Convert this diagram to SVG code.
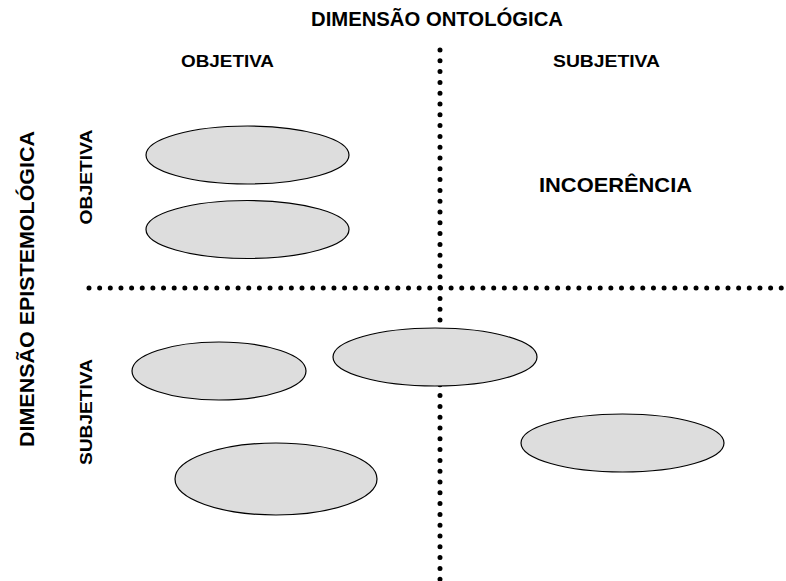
<svg xmlns="http://www.w3.org/2000/svg" width="786" height="581" viewBox="0 0 786 581">
<style>
.t{font-family:"Liberation Sans",Arial,sans-serif;font-weight:bold;fill:#000}
.dots{stroke:#000;stroke-width:5;stroke-linecap:round;fill:none}
.node ellipse{fill:#dddddd;stroke:#000;stroke-width:1.2}
</style>
<rect width="786" height="581" fill="#fff"/>
<g id="labels">
<text class="t" x="437" y="26" font-size="20" text-anchor="middle" textLength="252" lengthAdjust="spacingAndGlyphs">DIMENSÃO ONTOLÓGICA</text>
<text class="t" x="181" y="67" font-size="17" textLength="93" lengthAdjust="spacingAndGlyphs">OBJETIVA</text>
<text class="t" x="553" y="67" font-size="17" textLength="107" lengthAdjust="spacingAndGlyphs">SUBJETIVA</text>
<text class="t" x="539" y="192" font-size="21" textLength="153" lengthAdjust="spacingAndGlyphs">INCOERÊNCIA</text>
<text class="t" transform="translate(34,289) rotate(-90)" font-size="20" text-anchor="middle" textLength="316" lengthAdjust="spacingAndGlyphs">DIMENSÃO EPISTEMOLÓGICA</text>
<text class="t" transform="translate(92,177) rotate(-90)" font-size="17" text-anchor="middle" textLength="95" lengthAdjust="spacingAndGlyphs">OBJETIVA</text>
<text class="t" transform="translate(92,412) rotate(-90)" font-size="17" text-anchor="middle" textLength="106" lengthAdjust="spacingAndGlyphs">SUBJETIVA</text>
</g>
<g id="connectors">
<line class="dots" x1="89" y1="288" x2="782" y2="288" stroke-dasharray="0 10.65"/>
<line class="dots" x1="440" y1="50" x2="440" y2="580" stroke-dasharray="0 10.8"/>
</g>
<g id="node1" class="node"><ellipse cx="247.5" cy="155" rx="101.5" ry="29"/></g>
<g id="node2" class="node"><ellipse cx="247.5" cy="229.5" rx="101.5" ry="29"/></g>
<g id="node3" class="node"><ellipse cx="219" cy="371" rx="87" ry="29"/></g>
<g id="node4" class="node"><ellipse cx="435" cy="357" rx="102" ry="29"/></g>
<g id="node5" class="node"><ellipse cx="276" cy="479" rx="101" ry="36"/></g>
<g id="node6" class="node"><ellipse cx="622.5" cy="443" rx="101.5" ry="29"/></g>
</svg>
